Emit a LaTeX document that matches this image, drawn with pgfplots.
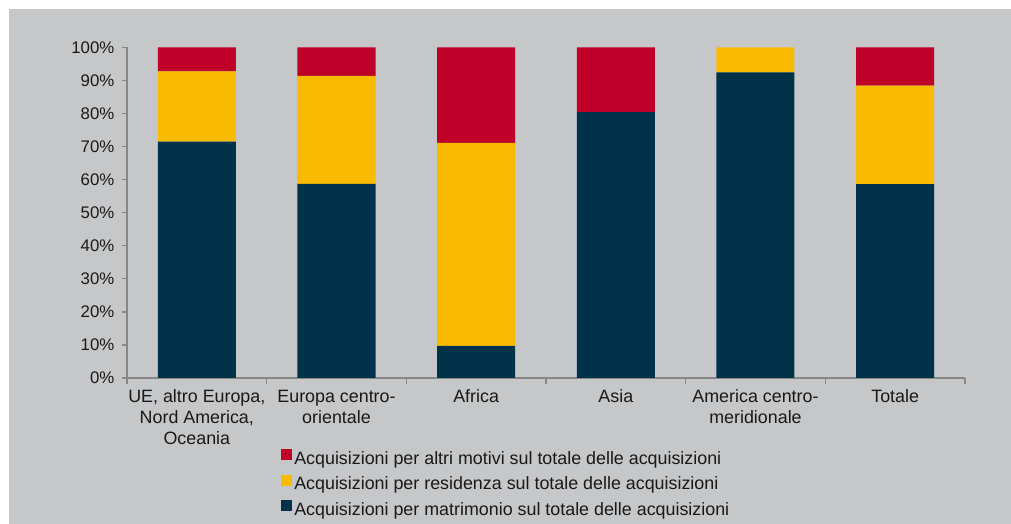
\documentclass[border=0pt]{standalone}
\usepackage{fontspec}
\setmainfont{Liberation Sans}
\usepackage{pgfplots}
\pgfplotsset{compat=1.18}
\definecolor{bg}{RGB}{198,199,201}
\definecolor{navy}{RGB}{0,51,74}
\definecolor{gold}{RGB}{249,187,0}
\definecolor{crimson}{RGB}{191,0,41}
\definecolor{axgray}{RGB}{135,135,135}
\definecolor{txt}{RGB}{25,25,25}
\begin{document}
\begin{tikzpicture}
\fill[white] (0,0) rectangle (758.25pt,393pt);
\fill[bg] (6.75pt,0) rectangle (758.25pt,386.25pt);
\begin{axis}[
  at={(95.25pt,109.5pt)}, anchor=south west,
  scale only axis, width=628.5pt, height=248pt,
  ybar stacked, bar width=58.5pt,
  xmin=0, xmax=6, ymin=0, ymax=100,
  axis x line*=bottom, axis y line*=left,
  axis line style={axgray, line width=1pt, -},
  xtick={0.5,1.5,2.5,3.5,4.5,5.5},
  xticklabels={{UE, altro Europa,\\Nord America,\\Oceania},{Europa centro-\\orientale},Africa,Asia,{America centro-\\meridionale},Totale},
  xticklabel style={align=center, font=\fontsize{13.4}{15.75}\selectfont, text=txt, yshift=-1.5pt},
  major x tick style={draw=none},
  minor xtick={0,1,...,6},
  minor tick length=4.5pt,
  minor x tick style={axgray, line width=1pt},
  ytick={0,10,...,100},
  yticklabels={0\%,10\%,20\%,30\%,40\%,50\%,60\%,70\%,80\%,90\%,100\%},
  yticklabel style={font=\fontsize{12.6}{14}\selectfont, text=txt, xshift=-2pt},
  major tick length=4pt,
  tick align=outside,
  major y tick style={axgray, line width=1pt},
  legend style={at={(0.1838,-0.2147)}, anchor=north west, draw=none, fill=none,
    font=\fontsize{13.4}{15}\selectfont, text=txt, row sep=5pt, column sep=1.5pt,
    inner sep=0pt, nodes={inner sep=0pt, text height=10pt, text depth=3pt}},
  legend cell align=left,
  reverse legend,
  legend image code/.code={\fill[#1] (0pt,-0.6pt) rectangle (8.25pt,7.65pt);},
]
\addplot[fill=navy, draw=none] coordinates {(0.5,71.5) (1.5,58.7) (2.5,9.7) (3.5,80.4) (4.5,92.4) (5.5,58.6)};
\addplot[fill=gold, draw=none] coordinates {(0.5,21.2) (1.5,32.7) (2.5,61.4) (3.5,0) (4.5,7.6) (5.5,29.8)};
\addplot[fill=crimson, draw=none] coordinates {(0.5,7.3) (1.5,8.6) (2.5,28.9) (3.5,19.6) (4.5,0) (5.5,11.6)};
\legend{Acquisizioni per matrimonio sul totale delle acquisizioni,Acquisizioni per residenza sul totale delle acquisizioni,Acquisizioni per altri motivi sul totale delle acquisizioni}
\end{axis}
\pgfresetboundingbox
\useasboundingbox (0,0) rectangle (758.25pt,393pt);
\end{tikzpicture}
\end{document}
